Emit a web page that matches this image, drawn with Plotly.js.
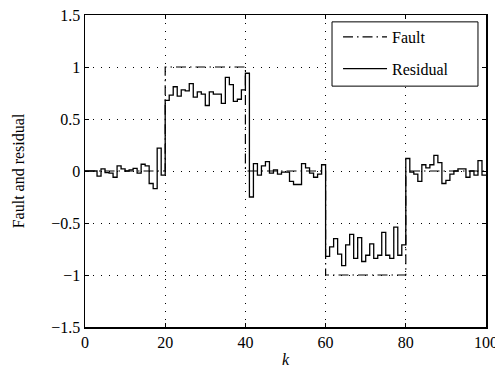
<!DOCTYPE html>
<html>
<head>
<meta charset="utf-8">
<script src="https://cdn.plot.ly/plotly-3.0.1.min.js"></script>
<style>html,body{margin:0;padding:0;background:#fff;}#chart{width:495px;height:375px;}</style>
</head>
<body>
<div id="chart"></div>
<script>
// Sample index k = 0..100
const kSteps = Array.from({length: 101}, (_, i) => i);

// Fault: piecewise-constant breakpoints
const faultK = [0, 20, 40, 60, 80, 100];
const faultV = [0, 1, 0, -1, 0, 0];

// Residual values at k = 0..100
const residual = [
  0, 0, 0, -0.05, 0.02, -0.015, -0.02, -0.06, 0.05, 0.02,
  0, 0.01, 0.025, -0.02, 0.065, 0.05, -0.12, -0.17, 0.22, -0.04,
  0.68, 0.73, 0.81, 0.72, 0.78, 0.77, 0.84, 0.71, 0.76, 0.74,
  0.63, 0.76, 0.74, 0.74, 0.65, 0.90, 0.83, 0.67, 0.69, 0.78,
  0.94, -0.25, 0.07, -0.04, 0.05, 0.09, -0.02, 0.01, -0.03, -0.01,
  -0.01, -0.10, -0.13, -0.13, 0.07, 0.03, -0.02, -0.06, -0.03, 0.06,
  -0.82, -0.73, -0.65, -0.80, -0.91, -0.71, -0.61, -0.84, -0.64, -0.87,
  -0.81, -0.70, -0.84, -0.81, -0.59, -0.81, -0.84, -0.54, -0.81, -0.71,
  0.12, -0.01, -0.03, -0.10, 0.06, 0.03, 0.06, 0.15, 0.08, -0.12,
  -0.09, -0.03, 0.0, 0.02, 0.02, -0.06, 0.0, -0.04, 0.10, -0.04,
  -0.04
];

const xTicks = [0, 20, 40, 60, 80, 100];
const yTicks = [-1.5, -1, -0.5, 0, 0.5, 1, 1.5];

const font = 'Liberation Serif, Times New Roman, serif';

const traces = [
  {
    x: faultK, y: faultV, name: 'Fault', type: 'scatter', mode: 'lines',
    legendgroup: 'f',
    line: {shape: 'hv', color: '#000', width: 1.2, dash: '10px,4px,1.5px,4px'}
  },
  {
    x: kSteps, y: residual, name: 'Residual', type: 'scatter', mode: 'lines',
    legendgroup: 'r',
    line: {shape: 'hv', color: '#000', width: 1.3}
  }
];

const axisCommon = {
  showline: true, linecolor: '#000', linewidth: 1.5, mirror: 'ticks',
  ticks: 'inside', ticklen: 4, tickwidth: 1, tickcolor: '#000',
  showgrid: true, gridcolor: '#000', gridwidth: 1, griddash: '1px,7px',
  zeroline: false, ticklabeloverflow: 'allow',
  tickfont: {family: font, size: 16, color: '#000'}
};

const layout = {
  width: 495, height: 375,
  margin: {l: 85, r: 9, t: 15, b: 48},
  paper_bgcolor: '#fff', plot_bgcolor: '#fff',
  showlegend: true,
  legend: {
    x: 0.631, y: 0.984, xanchor: 'left', yanchor: 'top',
    borderwidth: 0, bgcolor: 'rgba(0,0,0,0)',
    traceorder: 'grouped', tracegroupgap: 8, itemwidth: 44,
    font: {family: font, size: 16, color: '#000'}
  },
  shapes: [{
    type: 'rect', xref: 'paper', yref: 'paper',
    x0: 0.616, x1: 0.980, y0: 0.772, y1: 0.978,
    line: {color: '#000', width: 1}, fillcolor: '#fff', layer: 'above'
  }],
  xaxis: Object.assign({}, axisCommon, {
    range: [0, 100], tickvals: xTicks, ticktext: xTicks.map(String),
    title: {text: '<i>k</i>', font: {family: font, size: 16, color: '#000'}, standoff: 4}
  }),
  yaxis: Object.assign({}, axisCommon, {
    range: [-1.5, 1.5], tickvals: yTicks,
    ticktext: yTicks.map(v => String(v).replace('-', '\u2212')),
    title: {text: 'Fault and residual', font: {family: font, size: 16, color: '#000'}, standoff: 22}
  })
};

Plotly.newPlot('chart', traces, layout, {displayModeBar: false, staticPlot: true});
</script>
</body>
</html>
